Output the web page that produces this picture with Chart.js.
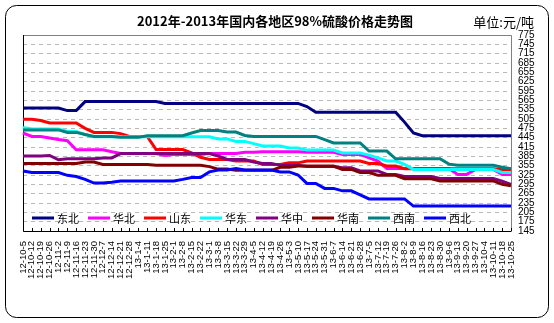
<!DOCTYPE html>
<html><head><meta charset="utf-8">
<script src="https://cdn.jsdelivr.net/npm/chart.js@4/dist/chart.umd.min.js"></script>
<style>html,body{margin:0;padding:0;background:#fff;}canvas{display:block;}</style>
</head><body>
<canvas id="c" width="554" height="323"></canvas>
<script>
const titleText = '2012年-2013年国内各地区98%硫酸价格走势图';
const unitText = '单位:元/吨';
const categories = ['12-10-5','12-10-12','12-10-19','12-10-26','12-11-2','12-11-9','12-11-16','12-11-23','12-11-30','12-12-7','12-12-14','12-12-21','12-12-28','13-1-4','13-1-11','13-1-18','13-1-25','13-2-1','13-2-8','13-2-15','13-2-22','13-3-1','13-3-8','13-3-15','13-3-22','13-3-29','13-4-5','13-4-12','13-4-19','13-4-26','13-5-3','13-5-10','13-5-17','13-5-24','13-5-31','13-6-7','13-6-14','13-6-21','13-6-28','13-7-5','13-7-12','13-7-19','13-7-26','13-8-2','13-8-9','13-8-16','13-8-23','13-8-30','13-9-6','13-9-13','13-9-20','13-9-27','13-10-4','13-10-11','13-10-18','13-10-25'];
const seriesNames = ['东北','华北','山东','华东','华中','华南','西南','西北'];
const dongbei  = [540,540,540,540,540,532,532,561,561,561,561,561,561,561,561,561,555,555,555,555,555,555,555,555,555,555,555,555,555,555,555,555,545,527,527,527,527,527,527,527,527,527,527,495,460,451,451,451,451,451,451,451,451,451,451,451];
const huabei   = [460,449,449,444,439,435,406,406,406,406,400,394,394,394,394,394,388,391,391,391,391,394,394,394,394,398,398,400,400,400,400,400,398,398,398,398,391,391,391,380,370,346,346,346,346,346,346,346,346,327,327,343,343,343,327,327];
const shandong = [504,504,500,492,492,492,492,475,462,462,462,458,449,449,449,407,407,407,407,396,382,375,375,375,370,370,370,359,359,359,364,364,370,370,370,370,370,370,370,362,362,354,354,345,345,345,345,345,345,345,345,345,345,345,342,342];
const huadong  = [478,473,473,473,473,465,465,455,448,448,448,448,448,448,448,448,448,448,448,448,448,448,441,441,433,433,426,418,418,418,412,412,405,405,405,405,396,396,396,389,380,370,370,359,343,343,343,343,343,343,343,343,343,343,333,333];
const huazhong = [386,386,386,388,374,377,377,377,377,380,380,394,394,394,394,394,394,394,394,394,394,394,386,375,375,375,367,362,362,356,356,356,352,352,352,352,348,348,338,338,338,327,327,320,320,320,320,314,314,314,314,314,314,314,305,295];
const huanan   = [362,362,362,362,362,362,362,367,367,359,359,359,359,359,359,356,356,356,356,356,356,352,344,344,340,340,340,340,340,350,350,354,354,354,354,354,343,343,333,333,324,324,324,313,313,313,313,306,306,306,306,306,306,306,295,290];
const xinan    = [470,470,470,470,470,462,462,455,449,449,449,446,446,446,451,451,451,451,451,460,468,468,468,463,463,452,449,449,449,449,449,449,449,449,439,428,428,428,428,402,402,402,377,377,377,377,377,377,360,356,356,356,356,356,350,345];
const xibei    = [338,333,333,333,333,324,320,311,299,299,302,306,306,306,306,306,306,306,311,317,317,335,341,341,346,341,341,341,341,335,335,325,298,298,282,282,274,274,261,248,248,248,248,248,225,225,225,225,225,225,225,225,225,225,225,225];
const seriesValues = [dongbei, huabei, shandong, huadong, huazhong, huanan, xinan, xibei];
const seriesColors = ['#000080','#FF00FF','#FF0000','#00FFFF','#800080','#800000','#008080','#0000FF'];
const yMin = 145, yMax = 775, yStep = 30;

const frame = {
  id: 'frame',
  beforeDraw(chart) {
    const c = chart.ctx;
    c.save();
    c.fillStyle = '#fff';
    c.fillRect(0, 0, chart.width, chart.height);
    c.strokeStyle = '#000';
    c.lineWidth = 1;
    c.beginPath();
    c.roundRect(5.5, 5.5, 543, 312, 11);
    c.stroke();
    c.restore();
  },
  beforeDatasetsDraw(chart) {
    const c = chart.ctx, a = chart.chartArea, xs = chart.scales.x;
    c.save();
    c.lineWidth = 1;
    c.strokeStyle = '#808080';
    c.beginPath();
    c.moveTo(a.left, a.top + 0.5); c.lineTo(a.right + 0.5, a.top + 0.5);
    c.lineTo(a.right + 0.5, a.bottom);
    c.stroke();
    c.strokeStyle = '#000';
    c.beginPath();
    c.moveTo(a.left + 0.5, a.top); c.lineTo(a.left + 0.5, a.bottom + 0.5);
    c.lineTo(a.right + 0.5, a.bottom + 0.5);
    for (let i = 0; i < xs.ticks.length; i++) {
      const px = Math.round(xs.getPixelForTick(i)) + 0.5;
      c.moveTo(px, a.bottom); c.lineTo(px, a.bottom - 3);
    }
    c.stroke();
    c.restore();
  },
  afterDraw(chart) {
    const c = chart.ctx, a = chart.chartArea;
    c.save();
    c.fillStyle = '#000';
    c.textBaseline = 'middle';
    c.textAlign = 'center';
    c.font = 'bold 13px "Noto Sans CJK SC"';
    c.fillText(titleText, 275, 21);
    c.textAlign = 'right';
    c.font = '13px "Noto Sans CJK SC"';
    c.fillText(unitText, 534, 22);
    c.textAlign = 'left';
    const ly = a.bottom - 13;
    c.font = '11px "Noto Sans CJK SC"';
    chart.data.datasets.forEach((ds, i) => {
      const tx = 57 + 56 * i;
      c.strokeStyle = ds.borderColor;
      c.lineWidth = 3;
      c.beginPath();
      c.moveTo(tx - 25, ly); c.lineTo(tx - 3, ly);
      c.stroke();
      c.fillStyle = '#000';
      c.fillText(ds.label, tx, ly + 1);
    });
    c.restore();
  }
};

new Chart(document.getElementById('c'), {
  type: 'line',
  data: {
    labels: categories,
    datasets: seriesNames.map((name, i) => ({
      label: name,
      data: seriesValues[i],
      borderColor: seriesColors[i],
      backgroundColor: seriesColors[i],
      borderWidth: 3,
      pointRadius: 0,
      tension: 0,
      fill: false,
      order: seriesNames.length - i
    }))
  },
  options: {
    responsive: false,
    animation: false,
    devicePixelRatio: 1,
    layout: { padding: { left: 23, top: 35, right: 0, bottom: 0 } },
    plugins: { legend: { display: false }, title: { display: false }, tooltip: { enabled: false } },
    scales: {
      x: {
        type: 'category',
        offset: false,
        grid: { display: false, drawTicks: false },
        border: { display: false },
        ticks: {
          autoSkip: false, minRotation: 90, maxRotation: 90, padding: 10,
          color: '#000', font: { family: '"Liberation Sans"', size: 9.5 }
        },
        afterFit(s) { s.height = 92; }
      },
      y: {
        position: 'right',
        min: yMin, max: yMax,
        grid: { color: '#b8b8b8', drawTicks: false, lineWidth: 1 },
        border: { display: false, dash: [4, 4] },
        ticks: {
          stepSize: yStep, autoSkip: false, padding: 7, color: '#000',
          font: { family: '"Liberation Sans"', size: 10 }
        },
        afterFit(s) { s.width = 43; }
      }
    }
  },
  plugins: [frame]
});
</script>
</body></html>
